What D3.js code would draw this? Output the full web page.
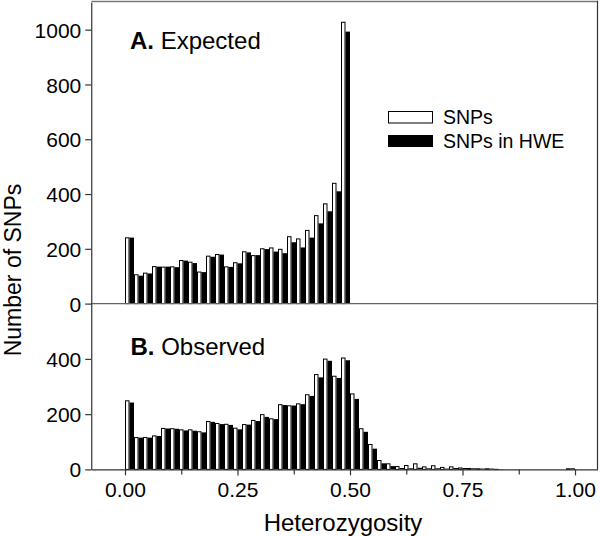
<!DOCTYPE html>
<html><head><meta charset="utf-8">
<script src="https://cdn.jsdelivr.net/npm/d3@7"></script>
<style>
html,body{margin:0;padding:0;background:#fff;}
svg{display:block;font-family:"Liberation Sans",Arial,sans-serif;}
</style></head>
<body>
<svg id="chart" width="600" height="536"></svg>
<script>
// ---- data ----
const binWidth = 0.02;
const expectedBins = [0.00,0.02,0.04,0.06,0.08,0.10,0.12,0.14,0.16,0.18,0.20,0.22,0.24,0.26,0.28,0.30,0.32,0.34,0.36,0.38,0.40,0.42,0.44,0.46,0.48];
const expectedSNPs = [242,107,113,137,135,136,159,153,117,175,181,136,151,191,177,202,205,200,246,238,269,323,366,441,1029];
const expectedHWE  = [241,102,110,135,135,133,157,148,115,171,179,134,147,187,177,199,190,184,224,205,241,293,337,410,993];

const observedBins = [0.00,0.02,0.04,0.06,0.08,0.10,0.12,0.14,0.16,0.18,0.20,0.22,0.24,0.26,0.28,0.30,0.32,0.34,0.36,0.38,0.40,0.42,0.44,0.46,0.48,0.50,0.52,0.54,0.56,0.58,0.60,0.62,0.64,0.66,0.68,0.70,0.72,0.74,0.76,0.78,0.80,0.82,0.84,0.86,0.88,0.90,0.92,0.94,0.96,0.98];
const observedSNPs = [250,117,117,123,150,149,145,145,138,175,168,165,151,164,179,200,185,236,232,239,272,345,401,339,405,275,149,92,34,22,12,16,22,11,15,9,11,7,5,4,4,2,0,0,0,0,0,0,0,4];
const observedHWE  = [242,115,115,121,148,147,141,140,134,172,164,161,145,162,175,190,182,233,231,236,266,333,393,331,395,255,136,75,22,12,5,4,6,4,4,3,5,5,4,3,3,1,0,0,0,0,0,0,0,4];

const xMajorTicks = [0,0.25,0.5,0.75,1.0];
const xMinorTicks = [0.125,0.375,0.625,0.875];
const yTopTicks = [0,200,400,600,800,1000];
const yBotTicks = [0,200,400];
const seriesNames = ["SNPs","SNPs in HWE"];

// ---- layout ----
const svg = d3.select("#chart");
const left = 91.25, right = 597.5;
const topY = 2.3, midY = 303.6, botY = 469.4;

const x = d3.scaleLinear().domain([-0.075,1.05]).range([left,right]);
const yTop = d3.scaleLinear().domain([0,1100]).range([midY,topY]);
const yBot = d3.scaleLinear().domain([0,600]).range([botY,midY]);

const font = "'Liberation Sans', Arial, sans-serif";

function drawBars(g, bins, allVals, hweVals, y){
  const data = bins.map((b,i)=>({b, a:allVals[i], h:hweVals[i]}));
  g.selectAll("rect.all").data(data.filter(d=>d.a>0)).join("rect")
    .attr("class","all")
    .attr("x", d=>x(d.b)+0.5)
    .attr("width", d=>x(d.b+binWidth/2)-x(d.b)-1)
    .attr("y", d=>y(d.a)+0.5)
    .attr("height", d=>Math.max(0,y(0)-y(d.a)-0.5))
    .attr("fill","#fff").attr("stroke","#000").attr("stroke-width",1);
  g.selectAll("rect.hwe").data(data.filter(d=>d.h>0)).join("rect")
    .attr("class","hwe")
    .attr("x", d=>x(d.b+binWidth/2))
    .attr("width", d=>x(d.b+binWidth)-x(d.b+binWidth/2))
    .attr("y", d=>y(d.h))
    .attr("height", d=>y(0)-y(d.h))
    .attr("fill","#000");
}

drawBars(svg.append("g"), expectedBins, expectedSNPs, expectedHWE, yTop);
drawBars(svg.append("g"), observedBins, observedSNPs, observedHWE, yBot);

// frame
svg.append("line").attr("x1",left).attr("x2",right).attr("y1",topY-0.8).attr("y2",topY-0.8).attr("stroke","#777").attr("stroke-width",1.5);
svg.append("line").attr("x1",right).attr("x2",right).attr("y1",topY-1.5).attr("y2",botY).attr("stroke","#333").attr("stroke-width",1.2);
svg.append("line").attr("x1",left).attr("x2",right).attr("y1",midY).attr("y2",midY).attr("stroke","#666").attr("stroke-width",1.3);

// axes
function styleAxis(g){
  g.select(".domain").attr("stroke","#333").attr("stroke-width",1.2);
  g.selectAll(".tick line").attr("stroke","#333").attr("stroke-width",1.2);
  g.selectAll(".tick text").attr("font-family",font).attr("font-size",21).attr("fill","#000");
}
const gyTop = svg.append("g").attr("transform",`translate(${left},0)`)
  .call(d3.axisLeft(yTop).tickValues(yTopTicks).tickSize(6).tickPadding(4).tickFormat(d3.format("d")).tickSizeOuter(0));
styleAxis(gyTop);
gyTop.selectAll(".tick text").attr("dy","0.36em");
const gyBot = svg.append("g").attr("transform",`translate(${left},0)`)
  .call(d3.axisLeft(yBot).tickValues(yBotTicks).tickSize(6).tickPadding(4).tickFormat(d3.format("d")).tickSizeOuter(0));
styleAxis(gyBot);
gyBot.selectAll(".tick text").attr("dy","0.36em");

const gx = svg.append("g").attr("transform",`translate(0,${botY})`)
  .call(d3.axisBottom(x).tickValues(xMajorTicks).tickSize(6).tickPadding(7).tickFormat(d3.format(".2f")).tickSizeOuter(0));
styleAxis(gx);
const gxm = svg.append("g").attr("transform",`translate(0,${botY})`)
  .call(d3.axisBottom(x).tickValues(xMinorTicks).tickSize(5).tickFormat("").tickSizeOuter(0));
styleAxis(gxm);
gxm.select(".domain").remove();

// axis titles
svg.append("text").attr("x",343).attr("y",531).attr("text-anchor","middle")
  .attr("font-family",font).attr("font-size",24).text("Heterozygosity");
svg.append("text").attr("transform","translate(21,270) rotate(-90)").attr("text-anchor","middle")
  .attr("font-family",font).attr("font-size",23).text("Number of SNPs");

// panel labels
function panelLabel(xp, yp, bold, rest){
  const t = svg.append("text").attr("x",xp).attr("y",yp).attr("font-family",font).attr("font-size",24);
  t.append("tspan").attr("font-weight","bold").text(bold);
  t.append("tspan").text(rest);
}
panelLabel(130, 49.3, "A.", " Expected");
panelLabel(130.5, 355, "B.", " Observed");

// legend
const lg = svg.append("g");
lg.append("rect").attr("x",388.5).attr("y",111.5).attr("width",44).attr("height",11.5).attr("fill","#fff").attr("stroke","#000").attr("stroke-width",1);
lg.append("rect").attr("x",388).attr("y",135).attr("width",45).attr("height",12).attr("fill","#000");
lg.append("text").attr("x",443).attr("y",124).attr("font-family",font).attr("font-size",19.5).text(seriesNames[0]);
lg.append("text").attr("x",443).attr("y",147.5).attr("font-family",font).attr("font-size",19.5).text(seriesNames[1]);
</script>
</body></html>
